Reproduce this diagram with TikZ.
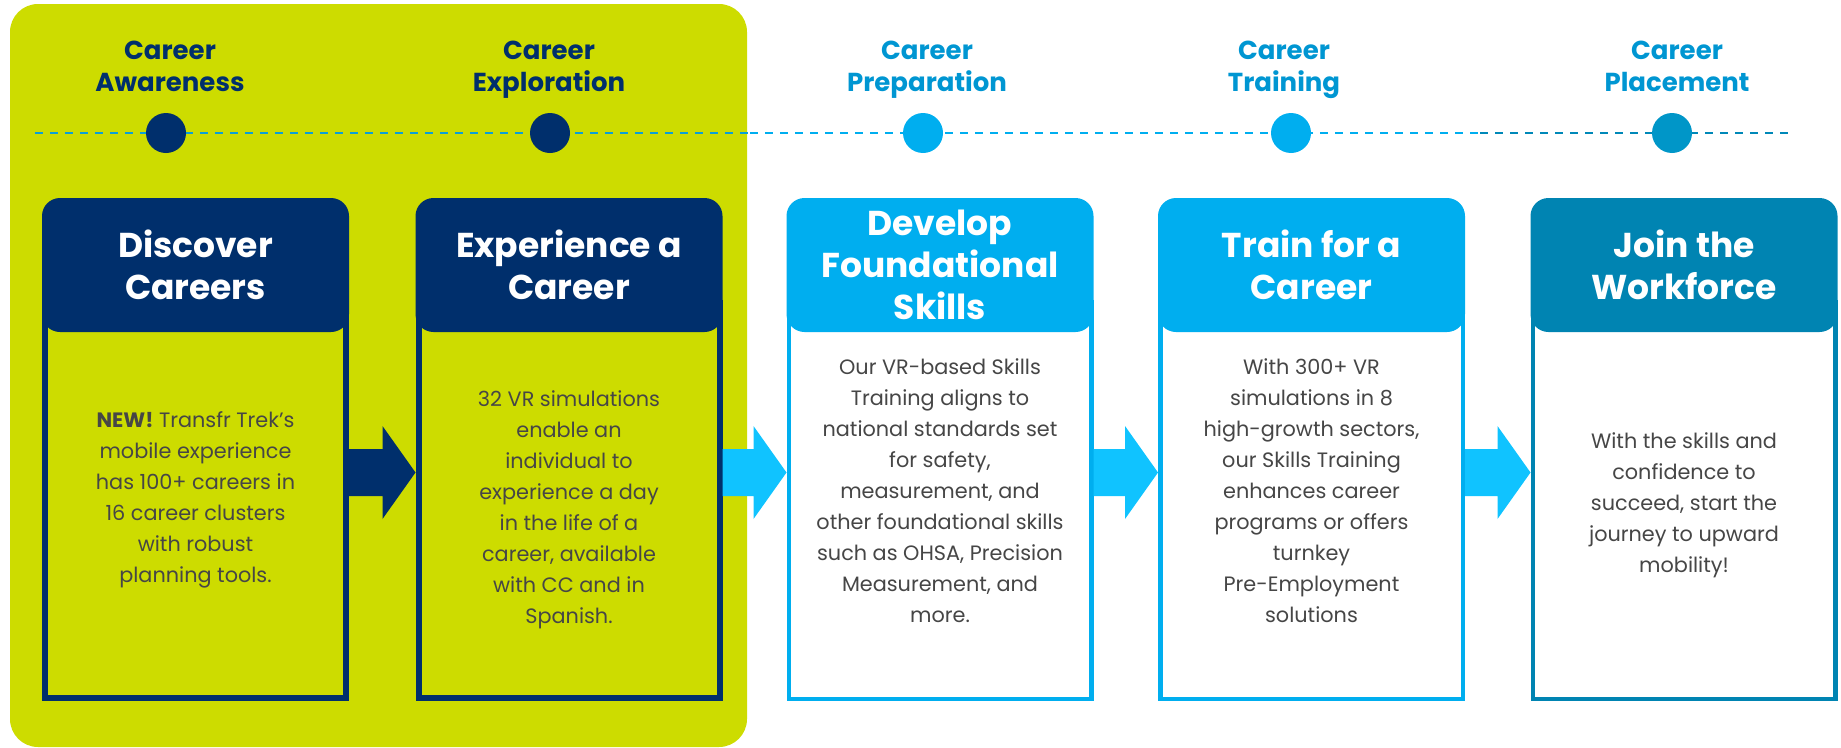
\documentclass[tikz,border=0pt]{standalone}
\usepackage{fontspec}
\setmainfont{Poppins}
\usetikzlibrary{calc}
\definecolor{lime}{HTML}{CDDC00}
\definecolor{navy}{HTML}{002F6C}
\definecolor{sky}{HTML}{00AEEF}
\definecolor{arrowsky}{HTML}{10C3FF}
\definecolor{deepsky}{HTML}{0084B2}
\definecolor{labelblue}{HTML}{0096D2}
\definecolor{bodygray}{HTML}{464646}
\definecolor{dashblue}{HTML}{0A9FD6}
\definecolor{dashdeep}{HTML}{0088B8}
\definecolor{dotdeep}{HTML}{0096C8}
\newcommand\blockarrow[3]{\fill[#3] let \p1=(#1), \p2=(#2) in
  (\x1,\y1+23.5pt) -- (\x2-33pt,\y1+23.5pt) -- (\x2-33pt,\y1+46.5pt) -- (\x2,\y1)
  -- (\x2-33pt,\y1-46.5pt) -- (\x2-33pt,\y1-23.5pt) -- (\x1,\y1-23.5pt) -- cycle;}
\begin{document}
\begin{tikzpicture}[x=1pt,y=-1pt,
  hdr/.style={rounded corners=18pt, minimum width=307pt, minimum height=134pt, inner sep=0pt,
    text=white, align=center, font=\fontsize{34.5}{42}\selectfont\bfseries},
  navybody/.style={draw=navy, line width=6pt, minimum width=301pt, minimum height=395pt, inner sep=0pt},
  bluebody/.style={draw=#1, fill=white, line width=4.5pt, minimum width=302.5pt, minimum height=396.5pt, inner sep=0pt},
  stagelabel/.style={align=center, inner sep=0pt, font=\fontsize{26}{32}\selectfont\bfseries},
  dot/.style={circle, minimum size=40pt, inner sep=0pt},
  dashline/.style={line width=2.5pt, dash pattern=on 8pt off 7pt},
  bodytext/.style={align=center, inner sep=0pt, text=bodygray, font=\fontsize{20.8}{31}\selectfont}
]
\useasboundingbox (0,0) rectangle (1841,747);
% green background
\fill[lime, rounded corners=28pt] (10,4) rectangle (747,747);
% dashed timeline
\coordinate (d0) at (35,133);
\coordinate (d1) at (750,133);
\coordinate (d2) at (1480,133);
\coordinate (d3) at (1791,133);
\draw[dashline, dashblue] (d0) -- (d1);
\draw[dashline, sky] (d1) -- (d2);
\draw[dashline, dashdeep] (d2) -- (d3);
% dots
\node[dot, fill=navy] (c1) at (166,133) {};
\node[dot, fill=navy] (c2) at (550,133) {};
\node[dot, fill=sky] (c3) at (923,133) {};
\node[dot, fill=sky] (c4) at (1291,133) {};
\node[dot, fill=dotdeep] (c5) at (1672,133) {};
% stage labels
\node[stagelabel, text=navy] (l1) at (170,71.5) {Career\\Awareness\strut};
\node[stagelabel, text=navy] (l2) at (549,71.5) {Career\\Exploration\strut};
\node[stagelabel, text=labelblue] (l3) at (927,71.5) {Career\\Preparation\strut};
\node[stagelabel, text=labelblue] (l4) at (1284,71.5) {Career\\Training\strut};
\node[stagelabel, text=labelblue] (l5) at (1677,71.5) {Career\\Placement\strut};
% bodies
\node[navybody] (b1) at (195.5,500.5) {};
\node[navybody] (b2) at (569,500.5) {};
\node[bluebody=sky] (b3) at (940,500.5) {};
\node[bluebody=sky] (b4) at (1311.5,500.5) {};
\node[bluebody=deepsky] (b5) at (1684,500.5) {};
% headers
\node[hdr, fill=navy] (h1) at (195.5,265) {Discover\\Careers};
\node[hdr, fill=navy] (h2) at (569,265) {Experience a\\Career};
\node[hdr, fill=sky] (h3) at (940,265) {Develop\\Foundational\\Skills};
\node[hdr, fill=sky] (h4) at (1311.5,265) {Train for a\\Career};
\node[hdr, fill=deepsky] (h5) at (1684,265) {Join the\\Workforce};
% arrows
\coordinate (ay) at (0,472.5);
\blockarrow{b1.east |- ay}{b2.west |- ay}{navy}
\blockarrow{b2.east |- ay}{b3.west |- ay}{arrowsky}
\blockarrow{b3.east |- ay}{b4.west |- ay}{arrowsky}
\blockarrow{b4.east |- ay}{b5.west |- ay}{arrowsky}
% body texts
\node[bodytext] (t1) at (195.5,500) {\textbf{NEW!} Transfr Trek’s\\mobile experience\\has 100+ careers in\\16 career clusters\\with robust\\planning tools.};
\node[bodytext] (t2) at (569,510) {32 VR simulations\\enable an\\individual to\\experience a day\\in the life of a\\career, available\\with CC and in\\Spanish.};
\node[bodytext] (t3) at (940,491) {Our VR-based Skills\\Training aligns to\\national standards set\\for safety,\\measurement, and\\other foundational skills\\such as OHSA, Precision\\Measurement, and\\more.};
\node[bodytext] (t4) at (1311.5,491) {With 300+ VR\\simulations in 8\\high-growth sectors,\\our Skills Training\\enhances career\\programs or offers\\turnkey\\Pre-Employment\\solutions};
\node[bodytext] (t5) at (1684,505) {With the skills and\\confidence to\\succeed, start the\\journey to upward\\mobility!};
\end{tikzpicture}
\end{document}
